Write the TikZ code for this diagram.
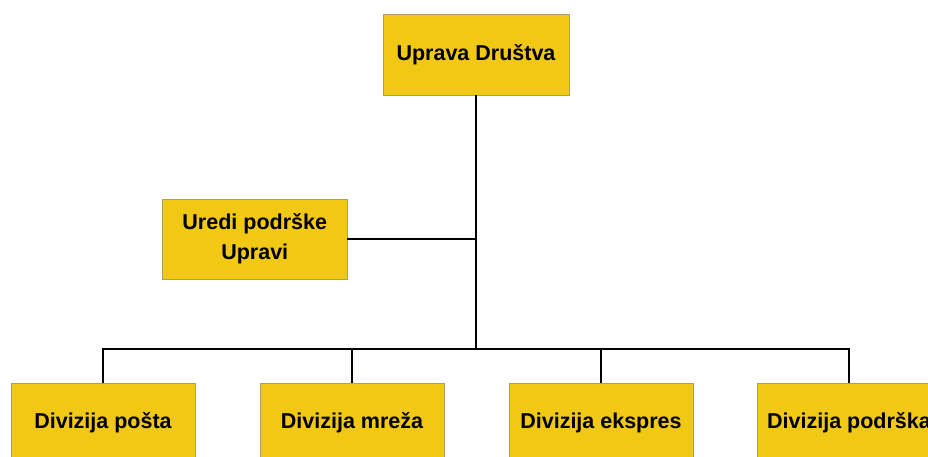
\documentclass[tikz,border=0pt]{standalone}
\usepackage{fontspec}
\setmainfont{Liberation Sans}
\usepackage{tikz}
\usetikzlibrary{calc}
\usetikzlibrary{positioning}
\definecolor{unitfill}{RGB}{241,201,20}
\definecolor{unitedge}{RGB}{168,158,110}

\tikzset{
  unit/.style={rectangle, fill=unitfill, draw=unitedge, line width=0.8pt,
    minimum width=184pt, minimum height=80pt, inner sep=0pt, align=center,
    font=\fontsize{21.5}{30}\selectfont\bfseries},
  link/.style={line width=1.4pt},
  trunk/.style={line width=2pt}
}

\begin{document}
\begin{tikzpicture}[x=1pt,y=-1pt]
				\useasboundingbox (0,0) rectangle (928,457);
				\clip (0,0) rectangle (928,457);
				
				\node[unit, minimum width=186pt, minimum height=81pt] (uprava) at (476,54.5) {Uprava Društva};
				\node[unit, minimum width=184.5pt] (uredi) at (254.75,239) {Uredi podrške\\Upravi};
				\node[unit] (posta) at (103,423) {Divizija pošta};
				\node[unit] (mreza) at (352,423) {Divizija mreža};
				\node[unit] (ekspres) at (601,423) {Divizija ekspres};
				\node[unit] (podrska) at (849,423) {Divizija podrška};
				
				\coordinate (bus) at (476,349);
				
				\draw[trunk]  (uprava.south) -- (bus);
				\draw[link]  (uredi.east) -- (uredi.east -| uprava.south);
				\draw[link]  (posta.north) |- (bus) -| (podrska.north);
				\draw[link]  (mreza.north) -- (mreza.north |- bus);
				\draw[link]  (ekspres.north) -- (ekspres.north |- bus);
			\end{tikzpicture}
\end{document}
